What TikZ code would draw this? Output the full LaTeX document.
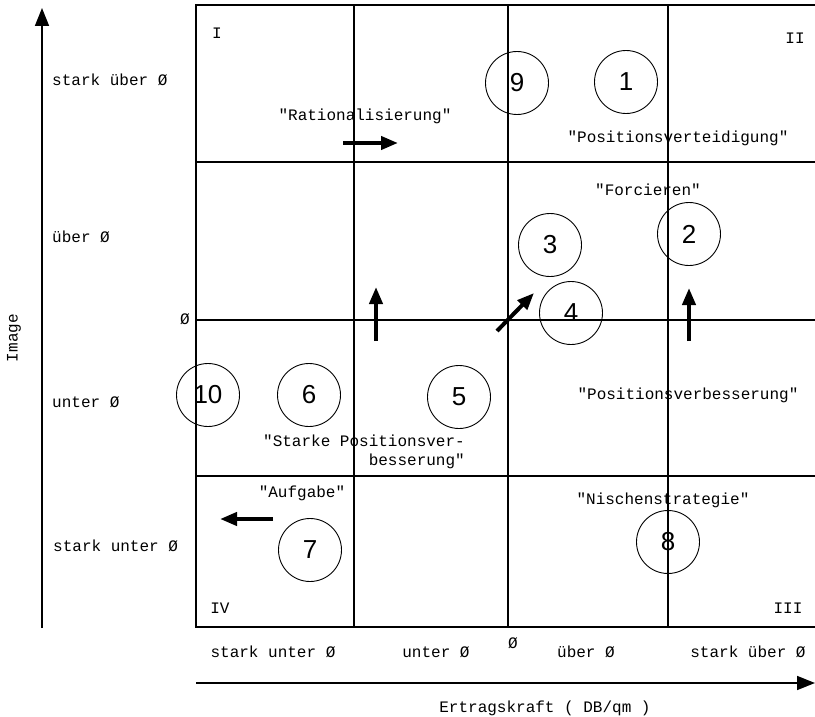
\documentclass[tikz,border=0pt]{standalone}
\usepackage{fontspec}
\setmainfont{Liberation Mono}[Ligatures=TeXOff]
\newfontfamily\numfont{Liberation Sans}
\usetikzlibrary{arrows.meta}

\tikzset{
  cell/.style={line width=1.3pt},
  heavy/.style={line width=2.1pt},
  marke/.style={draw, circle, line width=0.9pt, minimum size=63pt, inner sep=0pt,
    font=\numfont\fontsize{26}{26}\selectfont},
  lbl/.style={font=\fontsize{16}{19}\selectfont, inner sep=0pt},
  move/.style={line width=4pt, -{Triangle[length=17pt,width=13pt]}},
  axis/.style={line width=1.6pt, -{Triangle[length=18pt,width=14pt]}},
}

\begin{document}
\begin{tikzpicture}[x=1pt,y=-1pt]
\useasboundingbox (0,0) rectangle (815,717);

% grid:
\draw[cell] (354,5) -- (354,627);
\draw[cell] (508,5) -- (508,627);
\draw[cell] (668,5) -- (668,627);
\draw[cell] (196,162) -- (815,162);
\draw[cell] (196,476) -- (815,476);
\draw[heavy] (196,320) -- (815,320);
\draw[heavy] (815,5) -- (196,5) -- (196,627) -- (815,627);

% axes:
\coordinate (yfoot) at (42,628);
\coordinate (ytip) at (42,8);
\coordinate (xfoot) at (196,683);
\coordinate (xtip) at (815,683);
\draw[axis] (yfoot) -- (ytip);
\draw[axis] (xfoot) -- (xtip);

% axis labels:
\node[lbl,anchor=west] (ystue) at (52,80) {stark über Ø};
\node[lbl,anchor=west] (yue) at (52,237) {über Ø};
\node[lbl,anchor=west] (yun) at (52,402) {unter Ø};
\node[lbl,anchor=west] (ystun) at (53,546) {stark unter Ø};
\node[lbl] (ymid) at (185,319) {Ø};
\node[lbl,rotate=90] (ytitle) at (14,338) {Image};
\node[lbl] (xstun) at (273,652) {stark unter Ø};
\node[lbl] (xun) at (436,652) {unter Ø};
\node[lbl] (xmid) at (513,643) {Ø};
\node[lbl] (xue) at (586,652) {über Ø};
\node[lbl] (xstue) at (748,652) {stark über Ø};
\node[lbl] (xtitle) at (545,708) {Ertragskraft ( DB/qm )};

% quadrants:
\node[lbl] (q1) at (217,33) {I};
\node[lbl] (q2) at (795,38) {II};
\node[lbl] (q3) at (788,608) {III};
\node[lbl] (q4) at (220,608) {IV};

% strategies:
\node[lbl] (rat) at (365,116) {"Rationalisierung"};
\node[lbl] (ver) at (678,138) {"Positionsverteidigung"};
\node[lbl] (for) at (648,190) {"Forcieren"};
\node[lbl] (verb) at (688,395) {"Positionsverbesserung"};
\node[lbl,align=right,anchor=east] (stark) at (465,452) {"Starke Positionsver-\\besserung"};
\node[lbl] (auf) at (302,493) {"Aufgabe"};
\node[lbl] (nis) at (663,500) {"Nischenstrategie"};

% positions:
\node[marke] (c1) at (626,82) {1};
\node[marke] (c2) at (689,234) {2};
\node[marke] (c3) at (550,245) {3};
\node[marke] (c4) at (571,313) {4};
\node[marke] (c5) at (459,397) {5};
\node[marke] (c6) at (309,395) {6};
\node[marke] (c7) at (310,550) {7};
\node[marke] (c8) at (668,542) {8};
\node[marke] (c9) at (517,83) {9};
\node[marke] (c10) at (208,395) {10};

% movements:
\coordinate (m1a) at (343,143); \coordinate (m1b) at (398,143);
\coordinate (m2a) at (376,341); \coordinate (m2b) at (376,287);
\coordinate (m3a) at (497,331); \coordinate (m3b) at (534,293);
\coordinate (m4a) at (689,341); \coordinate (m4b) at (689,288);
\coordinate (m5a) at (273,519); \coordinate (m5b) at (220,519);
\draw[move] (m1a) -- (m1b);
\draw[move] (m2a) -- (m2b);
\draw[move] (m3a) -- (m3b);
\draw[move] (m4a) -- (m4b);
\draw[move] (m5a) -- (m5b);

\end{tikzpicture}
\end{document}
